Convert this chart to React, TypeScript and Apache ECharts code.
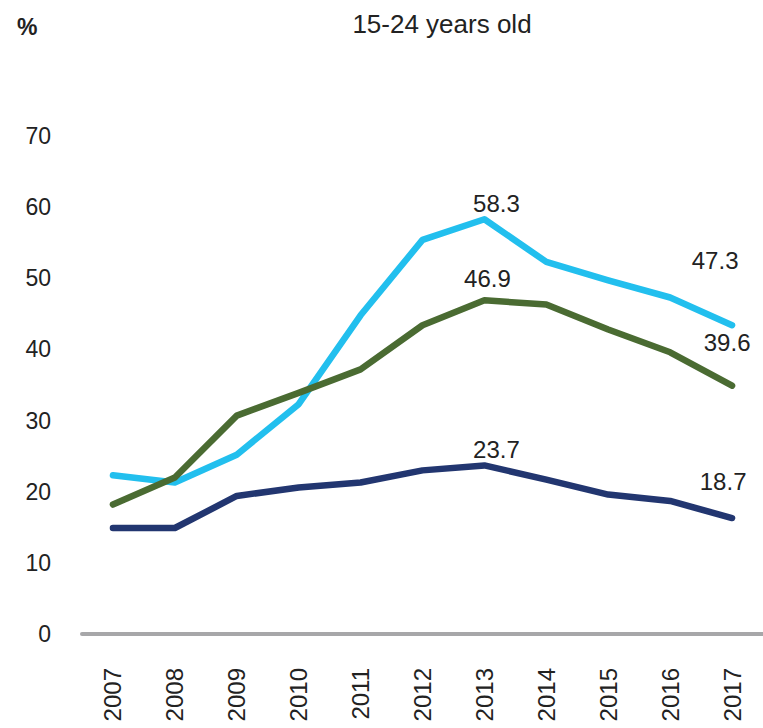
import React, { useEffect, useRef } from "react";
import * as echarts from "echarts";

const years = ["2007", "2008", "2009", "2010", "2011", "2012", "2013", "2014", "2015", "2016", "2017"];
const lightBlue = [22.3, 21.3, 25.2, 32.3, 44.8, 55.4, 58.3, 52.3, 49.7, 47.3, 43.4];
const green = [18.2, 22.0, 30.7, 33.9, 37.2, 43.4, 46.9, 46.3, 42.8, 39.6, 34.9];
const navy = [14.9, 14.9, 19.4, 20.6, 21.3, 23.0, 23.7, 21.7, 19.6, 18.7, 16.3];
const yTicks = [0, 10, 20, 30, 40, 50, 60, 70];

const TEXT = "#222222";
const FONT = "'Liberation Sans', Arial, sans-serif";

// label placements: index -> offset
const labelOffsets: Record<string, Record<number, [number, number]>> = {
  lb: { 6: [12, -16], 9: [45, -37] },
  gr: { 6: [3, -22], 9: [57, -10] },
  nv: { 6: [12, -16], 9: [53, -19] },
};

function build(values: number[], key: string) {
  return values.map((v, i) => {
    const off = labelOffsets[key][i];
    if (!off) return v;
    return {
      value: v,
      label: {
        show: true,
        position: "inside",
        offset: off,
        formatter: (p: any) => String(p.value),
        color: TEXT,
        fontSize: 24,
        fontFamily: FONT,
      },
    };
  });
}

export default function App() {
  const ref = useRef<HTMLDivElement>(null);
  useEffect(() => {
    if (!ref.current) return;
    const chart = echarts.init(ref.current, null, { renderer: "svg" });
    const mkSeries = (name: string, data: number[], key: string, color: string) => ({
      name,
      type: "line",
      data: build(data, key),
      symbol: "circle",
      symbolSize: 1,
      showSymbol: true,
      itemStyle: { color },
      lineStyle: { color, width: 6.5, cap: "round", join: "round" },
      label: { show: false },
      z: 3,
    });
    chart.setOption({
      animation: false,
      backgroundColor: "#ffffff",
      title: {
        text: "15-24 years old",
        left: 437,
        top: 6,
        textAlign: "center",
        textStyle: { color: TEXT, fontSize: 26, fontWeight: "normal", fontFamily: FONT },
      },
      graphic: [
        {
          type: "text",
          left: 17,
          top: 15,
          style: { text: "%", fill: TEXT, font: `bold 23px ${FONT}` },
        },
      ],
      grid: { left: 82, right: 0, top: 136, bottom: 94, containLabel: false },
      xAxis: {
        type: "category",
        data: years,
        boundaryGap: true,
        offset: 3,
        axisLine: { show: true, lineStyle: { color: "#a7a7a9", width: 4 } },
        axisTick: { show: false },
        axisLabel: {
          rotate: 90,
          margin: 31,
          color: TEXT,
          fontSize: 24,
          fontFamily: FONT,
          interval: 0,
        },
        splitLine: { show: false },
      },
      yAxis: {
        type: "value",
        min: yTicks[0],
        max: yTicks[yTicks.length - 1],
        interval: 10,
        axisLine: { show: false },
        axisTick: { show: false },
        splitLine: { show: false },
        axisLabel: { color: TEXT, fontSize: 23, fontFamily: FONT, margin: 31 },
      },
      series: [
        mkSeries("Light blue", lightBlue, "lb", "#22bfee"),
        mkSeries("Green", green, "gr", "#4a6b32"),
        mkSeries("Navy", navy, "nv", "#223670"),
      ],
    });
    return () => chart.dispose();
  }, []);
  return <div ref={ref} style={{ width: 763, height: 728, position: "absolute", left: 0, top: 0 }} />;
}
